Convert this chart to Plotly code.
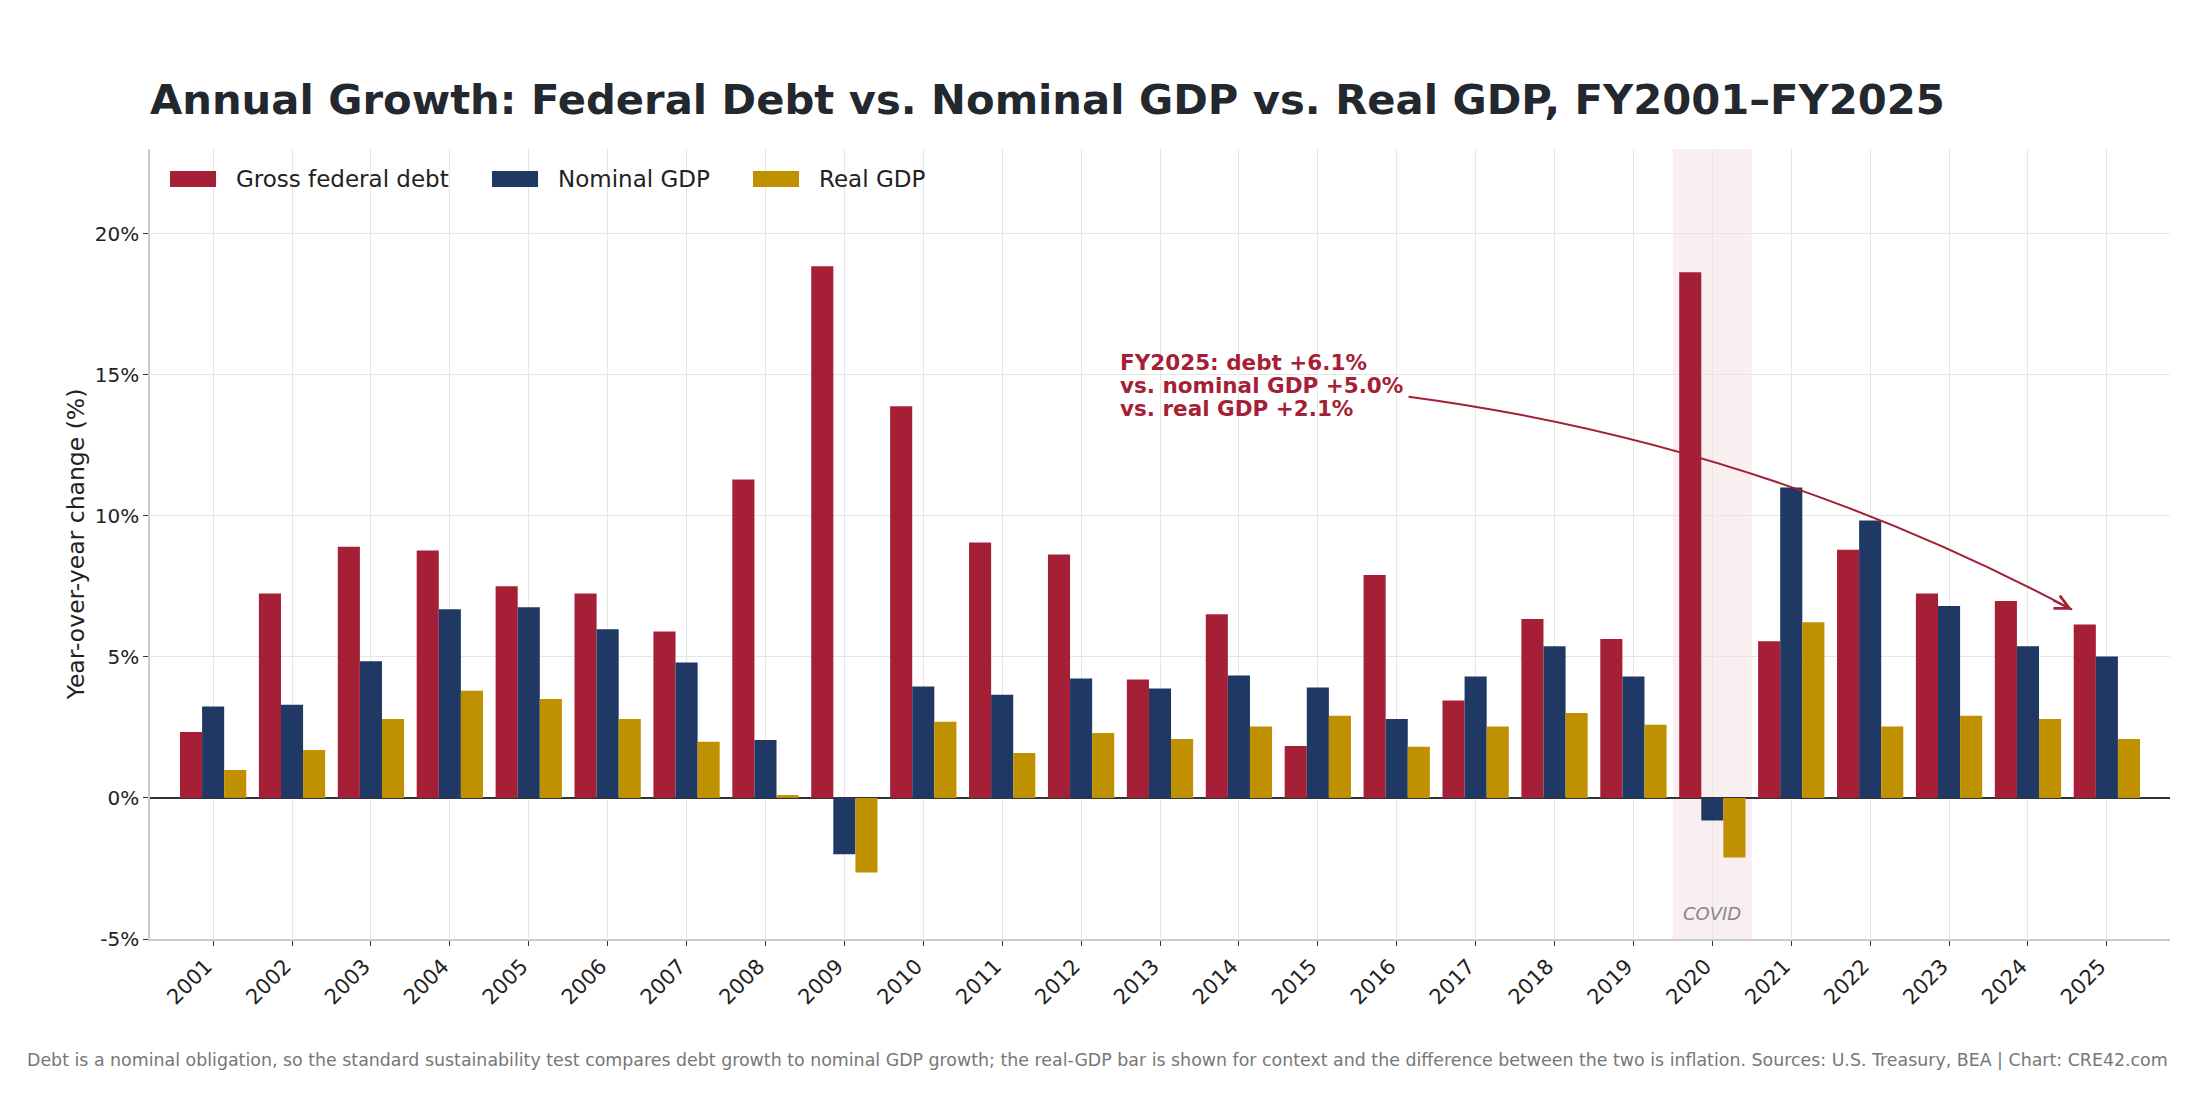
import plotly.graph_objects as go

# Fiscal years and YoY growth rates (%)
years = list(range(2001, 2026))
debt_growth = [2.34, 7.25, 8.90, 8.77, 7.50, 7.25, 5.90, 11.29, 18.84, 13.88,
               9.05, 8.63, 4.20, 6.51, 1.84, 7.90, 3.45, 6.34, 5.63, 18.63,
               5.55, 8.80, 7.25, 6.98, 6.15]
nominal_growth = [3.24, 3.30, 4.84, 6.69, 6.76, 5.98, 4.80, 2.05, -2.00, 3.95,
                  3.66, 4.23, 3.88, 4.34, 3.91, 2.80, 4.30, 5.38, 4.30, -0.80,
                  11.00, 9.83, 6.80, 5.38, 5.01]
real_growth = [0.99, 1.70, 2.80, 3.80, 3.51, 2.80, 1.99, 0.10, -2.64, 2.70,
               1.59, 2.30, 2.09, 2.53, 2.91, 1.81, 2.53, 3.01, 2.59, -2.11,
               6.23, 2.53, 2.91, 2.80, 2.09]
series_names = ["Gross federal debt", "Nominal GDP", "Real GDP"]
y_ticks = [-5, 0, 5, 10, 15, 20]
y_labels = ["-5%", "0%", "5%", "10%", "15%", "20%"]
callout_lines = ["FY2025: debt +6.1%", "vs. nominal GDP +5.0%", "vs. real GDP +2.1%"]

DEBT = "#A51F36"
NOMINAL = "#1F3864"
REAL = "#BF9000"
FONT = "DejaVu Sans"
colors = [DEBT, NOMINAL, REAL]

fig = go.Figure()
for name, vals, color in zip(series_names, [debt_growth, nominal_growth, real_growth], colors):
    fig.add_trace(go.Bar(x=years, y=vals, name=name, marker_color=color,
                         marker_line_width=0, showlegend=False))

# legend drawn by hand so the swatches are wide bars like the original
legend_offsets = [0.0, 0.1594, 0.2886]
for name, color, dx in zip(series_names, colors, legend_offsets):
    fig.add_shape(type="rect", xref="paper", yref="paper",
                  x0=0.0099 + dx, x1=0.0327 + dx, y0=0.9519, y1=0.9722,
                  fillcolor=color, line_width=0)
    fig.add_annotation(xref="paper", yref="paper", x=0.0416 + dx, y=0.962,
                       xanchor="left", yanchor="middle", showarrow=False, text=name,
                       font=dict(family=FONT, size=23, color="#222222"))

# COVID shading
fig.add_shape(type="rect", xref="x", yref="paper", x0=2019.5, x1=2020.5,
              y0=0, y1=1, fillcolor="rgba(165,31,54,0.07)", line_width=0,
              layer="below")
fig.add_annotation(x=2020, y=-4.1, text="<i>COVID</i>", showarrow=False,
                   font=dict(family=FONT, size=18, color="#888888"))

# curved callout arrow pointing at FY2025
fig.add_shape(type="path", xref="x", yref="y",
              path="M 2016.15 14.22 Q 2020.60 12.57 2024.56 6.67",
              line=dict(color=DEBT, width=2))
fig.add_annotation(x=2024.56, y=6.67, ax=2024.30, ay=7.03, xref="x", yref="y",
                   axref="x", ayref="y", text="", showarrow=True,
                   arrowhead=5, arrowsize=1.4, arrowwidth=2, arrowcolor=DEBT,
                   standoff=0)
for line, yy in zip(callout_lines, [15.44, 14.62, 13.80]):
    fig.add_annotation(x=2012.47, y=yy, xanchor="left", yanchor="middle",
                       showarrow=False, text=line,
                       font=dict(family=FONT, size=21.5, color=DEBT, weight="bold"))

# footer note
fig.add_annotation(xref="paper", yref="paper", x=-0.062, y=-0.1535,
                   xanchor="left", yanchor="middle", showarrow=False,
                   text="Debt is a nominal obligation, so the standard sustainability test compares debt growth "
                        "to nominal GDP growth; the real-GDP bar is shown for context and the difference between "
                        "the two is inflation. Sources: U.S. Treasury, BEA | Chart: CRE42.com",
                   font=dict(family=FONT, size=17.4, color="#777777"))

fig.update_layout(
    width=2200, height=1100,
    barmode="group", bargap=0.16, bargroupgap=0,
    plot_bgcolor="white", paper_bgcolor="white",
    margin=dict(l=142, r=38, t=141, b=169),
    font=dict(family=FONT, size=20, color="#222222"),
    title=dict(text="<b>Annual Growth: Federal Debt vs. Nominal GDP vs. Real GDP, FY2001–FY2025</b>",
               x=142 / 2200, xref="container", xanchor="left",
               y=1 - 91.7 / 1100, yref="container", yanchor="middle",
               font=dict(family=FONT, size=41.7, color="#23272E")),
    showlegend=False,
)
fig.update_xaxes(range=[2000.2, 2025.8], tickvals=years, ticktext=[str(y) for y in years],
                 tickangle=-45, ticks="outside", ticklen=5, tickcolor="#333333",
                 ticklabelshift=-7,
                 showgrid=True, gridcolor="#E6E6E6", gridwidth=1,
                 showline=True, linecolor="#CCCCCC", linewidth=1.5,
                 tickfont=dict(family=FONT, size=21, color="#222222"))
fig.update_yaxes(range=[-5, 23], tickvals=y_ticks, ticktext=y_labels,
                 ticks="outside", ticklen=5, tickcolor="#333333",
                 showgrid=True, gridcolor="#E6E6E6", gridwidth=1,
                 zeroline=True, zerolinecolor="#333333", zerolinewidth=2,
                 showline=True, linecolor="#CCCCCC", linewidth=1.5,
                 title=dict(text="Year-over-year change (%)", standoff=4,
                            font=dict(family=FONT, size=23.5, color="#222222")),
                 tickfont=dict(family=FONT, size=20, color="#222222"))

fig.write_html("out.html")
